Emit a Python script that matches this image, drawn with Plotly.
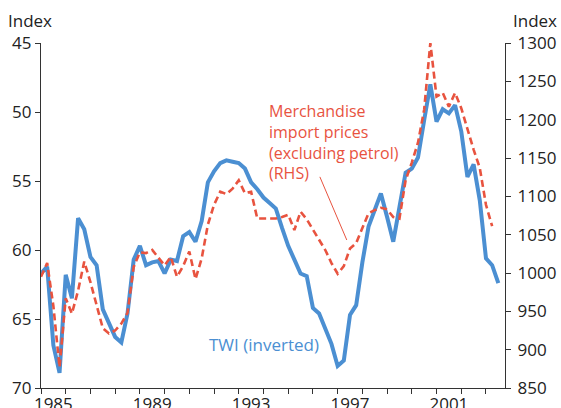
import plotly.graph_objects as go

# Quarterly observations starting 1985 Q1
twi_inverted = [61.7, 61.2, 66.9, 68.9, 61.8, 63.5, 57.7, 58.5, 60.5, 61.1,
                64.3, 65.3, 66.3, 66.7, 64.6, 60.7, 59.7, 61.1, 60.9, 60.8,
                61.7, 60.7, 60.8, 59.0, 58.7, 59.4, 57.9, 55.1, 54.3, 53.7,
                53.5, 53.6, 53.7, 54.1, 55.1, 55.6, 56.2, 56.6, 57.0, 58.4,
                59.7, 60.7, 61.7, 61.9, 64.2, 64.6, 65.7, 66.8, 68.4, 68.0,
                64.7, 64.0, 60.9, 58.3, 57.1, 55.9, 57.6, 59.4, 56.9, 54.4,
                54.1, 53.3, 50.6, 48.0, 50.7, 49.8, 50.1, 49.5, 51.4, 54.7,
                53.8, 56.4, 60.6, 61.1, 62.4]

import_prices = [995, 1013, 957, 877, 967, 947, 977, 1015, 988, 958,
                 928, 921, 925, 934, 948, 1008, 1027, 1026, 1030, 1020,
                 1010, 1021, 995, 1009, 1028, 992, 1019, 1063, 1089, 1106,
                 1103, 1110, 1121, 1104, 1106, 1071, 1071, 1071, 1071, 1073,
                 1076, 1056, 1080, 1070, 1057, 1043, 1030, 1013, 999, 1009,
                 1032, 1039, 1059, 1078, 1082, 1085, 1083, 1073, 1071, 1121,
                 1144, 1170, 1213, 1300, 1230, 1235, 1217, 1235, 1215, 1187,
                 1161, 1137, 1089, 1061]

start_year = 1985
twi_dates = [start_year + i / 4 for i in range(len(twi_inverted))]
imp_dates = [start_year + i / 4 for i in range(len(import_prices))]

year_label_vals = [1985.5, 1989.5, 1993.5, 1997.5, 2001.5]
year_label_text = ["1985", "1989", "1993", "1997", "2001"]
left_ticks = [45, 50, 55, 60, 65, 70]
right_ticks = [850, 900, 950, 1000, 1050, 1100, 1150, 1200, 1250, 1300]

BLUE = "#4b8fd2"
RED = "#e8533f"
AXIS = "#333333"
FONT = "Open Sans"

fig = go.Figure()
fig.add_trace(go.Scatter(x=twi_dates, y=twi_inverted, mode="lines",
                         line=dict(color=BLUE, width=4), yaxis="y",
                         name="TWI (inverted)"))
fig.add_trace(go.Scatter(x=imp_dates, y=import_prices, mode="lines",
                         line=dict(color=RED, width=2.6, dash="7px,4px"),
                         yaxis="y2", name="Merchandise import prices"))

fig.update_layout(
    width=561, height=408,
    margin=dict(l=41, r=56, t=43, b=20, autoexpand=False),
    paper_bgcolor="white", plot_bgcolor="white",
    showlegend=False,
    font=dict(family=FONT, size=17, color="#222222"),
    xaxis=dict(range=[1985, 2003.77], tickvals=year_label_vals,
               ticktext=year_label_text, ticks="", showgrid=False,
               zeroline=False, showline=True, linecolor=AXIS, linewidth=1.2,
               automargin=False,
               minor=dict(tick0=1985, dtick=1, ticks="outside", ticklen=5,
                          tickcolor=AXIS, tickwidth=1, showgrid=False),
               tickfont=dict(size=17), ticklabelstandoff=0),
    yaxis=dict(range=[70, 45], tickvals=left_ticks, ticks="outside",
               ticklen=5, tickcolor=AXIS, showgrid=False, zeroline=False,
               showline=True, linecolor=AXIS, linewidth=1.2,
               automargin=False, tickfont=dict(size=17)),
    yaxis2=dict(range=[850, 1300], tickvals=right_ticks, overlaying="y",
                side="right", ticks="outside", ticklen=5, tickcolor=AXIS,
                showgrid=False, zeroline=False, showline=True,
                linecolor=AXIS, linewidth=1.2, automargin=False,
                tickfont=dict(size=17), ticklabelstandoff=3),
)

fig.add_annotation(text="Index", xref="paper", yref="paper", x=-0.023,
                   y=1.066, xanchor="center", yanchor="middle",
                   showarrow=False, font=dict(size=17))
fig.add_annotation(text="Index", xref="paper", yref="paper", x=1.065,
                   y=1.066, xanchor="center", yanchor="middle",
                   showarrow=False, font=dict(size=17))
fig.add_annotation(text="Merchandise<br>import prices<br>(excluding petrol)<br>(RHS)",
                   xref="paper", yref="paper", x=0.487, y=0.84,
                   xanchor="left", yanchor="top", align="left",
                   showarrow=False, font=dict(size=16, color=RED))
fig.add_annotation(text="TWI (inverted)", xref="paper", yref="paper",
                   x=0.358, y=0.125, xanchor="left", yanchor="middle",
                   showarrow=False, font=dict(size=17, color=BLUE))
fig.add_shape(type="line", xref="paper", yref="paper",
              x0=0.601, y0=0.612, x1=0.659, y1=0.429,
              line=dict(color=RED, width=1))

fig.write_html("out.html", config={"displayModeBar": False},
               post_script="document.body.style.margin='0';")
